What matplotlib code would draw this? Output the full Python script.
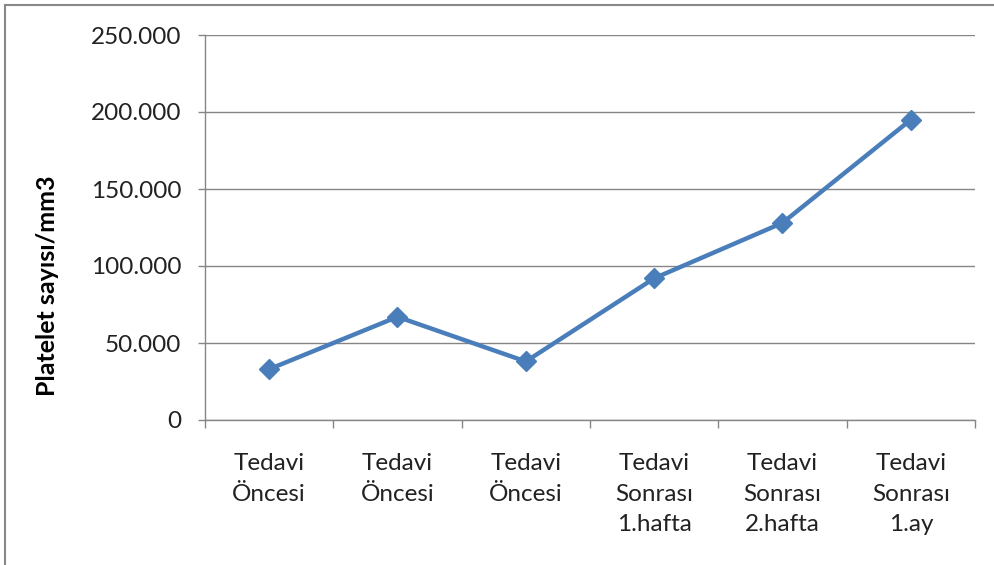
import matplotlib.pyplot as plt
from matplotlib.ticker import FuncFormatter
from matplotlib.lines import Line2D

categories = ["Tedavi\nÖncesi", "Tedavi\nÖncesi", "Tedavi\nÖncesi",
              "Tedavi\nSonrası\n1.hafta", "Tedavi\nSonrası\n2.hafta", "Tedavi\nSonrası\n1.ay"]
platelets = [33000, 67000, 38000, 92000, 128000, 195000]
yticks = [0, 50000, 100000, 150000, 200000, 250000]

plt.rcParams['font.family'] = ['Lato', 'DejaVu Sans']

fig = plt.figure(figsize=(9.95, 5.65), dpi=100)
ax = fig.add_axes([205 / 995, 145 / 565, 770 / 995, 385 / 565])

x = range(len(platelets))
ax.plot(x, platelets, color='#4A7EBB', linewidth=3.2, marker='D', markersize=10,
        markerfacecolor='#4A7EBB', markeredgecolor='#4A7EBB', zorder=3)

ax.set_xlim(-0.5, len(platelets) - 0.5)
ax.set_ylim(0, 250000)
ax.set_yticks(yticks)
ax.yaxis.set_major_formatter(FuncFormatter(lambda v, p: '0' if v == 0 else f'{int(v):,}'.replace(',', '.')))
ax.grid(axis='y', color='#868686', linewidth=1)
ax.set_axisbelow(True)

# category boundary ticks
ax.set_xticks([i - 0.5 for i in range(len(platelets) + 1)])
ax.set_xticklabels([])
ax.set_xticks(list(x), minor=True)
ax.set_xticklabels(categories, minor=True, fontsize=17.5, color='#222222', linespacing=1.55)
ax.tick_params(axis='x', which='minor', length=0, pad=24)
ax.tick_params(axis='x', which='major', length=6, color='#868686', width=1)
ax.tick_params(axis='y', length=5, color='#868686', width=1, labelsize=17.5, labelcolor='#222222', pad=12)

for s in ['top', 'right']:
    ax.spines[s].set_visible(False)
for s in ['left', 'bottom']:
    ax.spines[s].set_color('#868686')
    ax.spines[s].set_linewidth(1)

ax.set_ylabel('Platelet sayısı/mm3', fontsize=18, fontweight='bold')
ax.yaxis.set_label_coords(-0.19, 0.35)

# outer frame (left and top edges visible)
fig.add_artist(Line2D([5 / 995, 5 / 995], [0, 1 - 5 / 565], color='#888888', linewidth=1.5, transform=fig.transFigure))
fig.add_artist(Line2D([5 / 995, 1], [1 - 5 / 565, 1 - 5 / 565], color='#888888', linewidth=1.5, transform=fig.transFigure))

fig.savefig('out.png', dpi=100)
